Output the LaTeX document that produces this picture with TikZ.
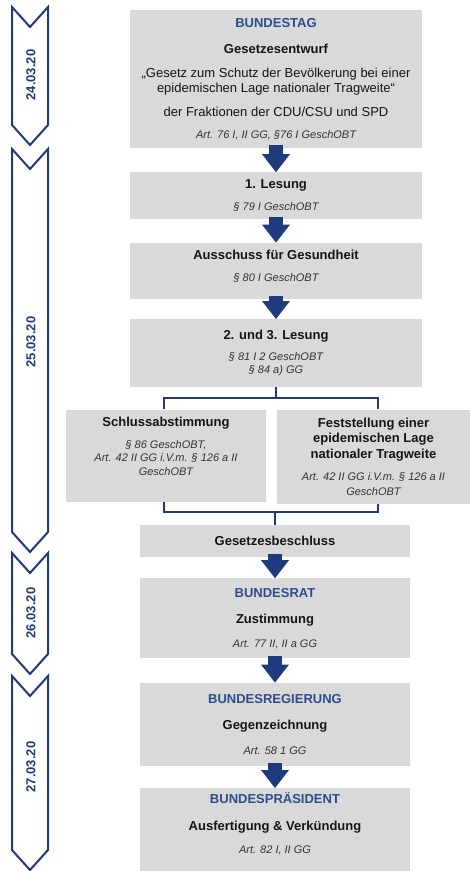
\documentclass[tikz,border=0pt]{standalone}
\usepackage{fontspec}
\setmainfont{Liberation Sans}
\usetikzlibrary{
  arrows.meta,
  calc,
  positioning
}
\definecolor{Navy}{HTML}{1F3A7D}
\definecolor{OrganBlue}{HTML}{2E4C8E}
\definecolor{BoxFill}{HTML}{D9D9D9}
\definecolor{Ink}{HTML}{151515}
\definecolor{RefInk}{HTML}{333333}
\newcommand{\flownormalfont}{\fontsize{13}{16}\selectfont}
\newcommand{\floworganfont}{\bfseries\color{OrganBlue}\fontsize{13}{16}\selectfont}
\newcommand{\flowreffont}{\itshape\color{RefInk}\fontsize{11}{13.5}\selectfont}
\newcommand{\flowdatefont}{\bfseries\fontsize{13}{15}\selectfont}
\tikzset{
  % Global typography and the grey process boxes.
  every node/.style={font=\flownormalfont, text=Ink},
  flow box/.style={
    fill=BoxFill,
    draw=none,
    align=center,
    inner sep=2pt,
    minimum width=#1
  },
  flow box/.default=292pt,
  sub box/.style={
    flow box=#1
  },
  % Thick navy arrow between consecutive steps.
  block arrow/.style={
    draw=Navy,
    line width=14pt,
    -{Triangle[length=18pt,width=28pt,line width=0pt]}
  },
  bracket line/.style={
    draw=Navy,
    line width=2pt
  },
  date chevron/.style={
    draw=Navy,
    line width=2pt,
    line join=miter
  },
  date label/.style={
    font=\flowdatefont,
    text=Navy,
    rotate=90
  }
}

\begin{document}
\begin{tikzpicture}[x=1pt, y=-1pt]
\useasboundingbox (0,0) rectangle (470,871);

% ---------------------------------------------------------------------------
% Bundestag: draft, readings and committee
% ---------------------------------------------------------------------------
\node[flow box, minimum height=138pt] (bundestag) at (276,79)
  {{\floworganfont BUNDESTAG}\\[10pt]
   {\bfseries Gesetzesentwurf}\\[8pt]
   „Gesetz zum Schutz der Bevölkerung bei einer\\[-1pt]
   epidemischen Lage nationaler Tragweite“\\[8pt]
   der Fraktionen der CDU/CSU und SPD\\[6pt]
   {\flowreffont Art. 76 I, II GG, §76 I GeschOBT}};

\node[flow box, minimum height=47pt, below=24pt of bundestag] (lesungEins)
  {{\bfseries 1. Lesung}\\[6pt]
   {\flowreffont § 79 I GeschOBT}};

\node[flow box, minimum height=56pt, text depth=11pt, below=23pt of lesungEins] (ausschuss)
  {{\bfseries Ausschuss für Gesundheit}\\[6pt]
   {\flowreffont § 80 I GeschOBT}};

\node[flow box, minimum height=68pt, below=20pt of ausschuss] (lesungZweiDrei)
  {{\bfseries 2. und 3. Lesung}\\[5pt]
   {\flowreffont § 81 I 2 GeschOBT}\\[-3pt]
   {\flowreffont § 84 a) GG}};

% Two decisions taken side by side
\node[sub box=200pt, minimum height=92pt, text depth=18pt, anchor=north] (schluss)
  at ([xshift=-110pt,yshift=-22pt]lesungZweiDrei.south)
  {{\bfseries Schlussabstimmung}\\[6pt]
   {\flowreffont § 86 GeschOBT,}\\[-3pt]
   {\flowreffont Art. 42 II GG i.V.m. § 126 a II}\\[-2pt]
   {\flowreffont GeschOBT}};

\node[sub box=193pt, minimum height=94pt, anchor=north] (feststellung)
  at ([xshift=97.5pt,yshift=-22pt]lesungZweiDrei.south)
  {{\bfseries Feststellung einer}\\[-0.5pt]
   {\bfseries epidemischen Lage}\\[-0.5pt]
   {\bfseries nationaler Tragweite}\\[6pt]
   {\flowreffont Art. 42 II GG i.V.m. § 126 a II}\\[-1pt]
   {\flowreffont GeschOBT}};

\node[flow box=270pt, minimum height=32pt] (beschluss) at (275,541)
  {\bfseries Gesetzesbeschluss};

% ---------------------------------------------------------------------------
% Bundesrat, Bundesregierung, Bundespräsident
% ---------------------------------------------------------------------------
\node[flow box=270pt, minimum height=80pt, below=21pt of beschluss] (bundesrat)
  {{\floworganfont BUNDESRAT}\\[10pt]
   {\bfseries Zustimmung}\\[8pt]
   {\flowreffont Art. 77 II, II a GG}};

\node[flow box=270pt, minimum height=83pt, below=24pt of bundesrat] (regierung)
  {{\floworganfont BUNDESREGIERUNG}\\[10pt]
   {\bfseries Gegenzeichnung}\\[9pt]
   {\flowreffont Art. 58 1 GG}};

\node[flow box=270pt, minimum height=84pt, text depth=15pt, below=22pt of regierung] (praesident)
  {{\floworganfont BUNDESPRÄSIDENT}\\[11pt]
   {\bfseries Ausfertigung \& Verkündung}\\[7pt]
   {\flowreffont Art. 82 I, II GG}};

% ---------------------------------------------------------------------------
% Connectors
% ---------------------------------------------------------------------------
\foreach \from/\to in {
  bundestag/lesungEins,
  lesungEins/ausschuss,
  ausschuss/lesungZweiDrei,
  beschluss/bundesrat,
  bundesrat/regierung,
  regierung/praesident}{
  \draw[block arrow] ([yshift=3pt]\from.south) -- (\to.north);
}

% Split into the two votes and merge again
\coordinate[below=11pt of lesungZweiDrei.south] (splitFork);
\draw[bracket line] (lesungZweiDrei.south) -- (splitFork);
\draw[bracket line] (splitFork) -| ([xshift=-2pt]schluss.north);
\draw[bracket line] (splitFork) -| ([xshift=4.5pt]feststellung.north);

\coordinate (mergeFork) at ([yshift=13pt]beschluss.north);
\draw[bracket line]
  ([xshift=-2pt]schluss.south) |- (mergeFork) -| ([xshift=4.5pt]feststellung.south);
\draw[bracket line] (mergeFork) -- (beschluss.north);

% ---------------------------------------------------------------------------
% Date chevrons on the left
% ---------------------------------------------------------------------------
\foreach \dtop/\dbot/\dmid/\ddate [count=\i] in {
  7/125/75/24.03.20,
  149/532/342/25.03.20,
  553/654/613/26.03.20,
  676/850/767/27.03.20}{
  \draw[date chevron]
    (12,\dtop) -- (30,\dtop+20) -- (48,\dtop) -- (48,\dbot)
    -- (30,\dbot+20) -- (12,\dbot) -- cycle;
  \node[date label] (date\i) at (31,\dmid) {\ddate};
}

\end{tikzpicture}
\end{document}
